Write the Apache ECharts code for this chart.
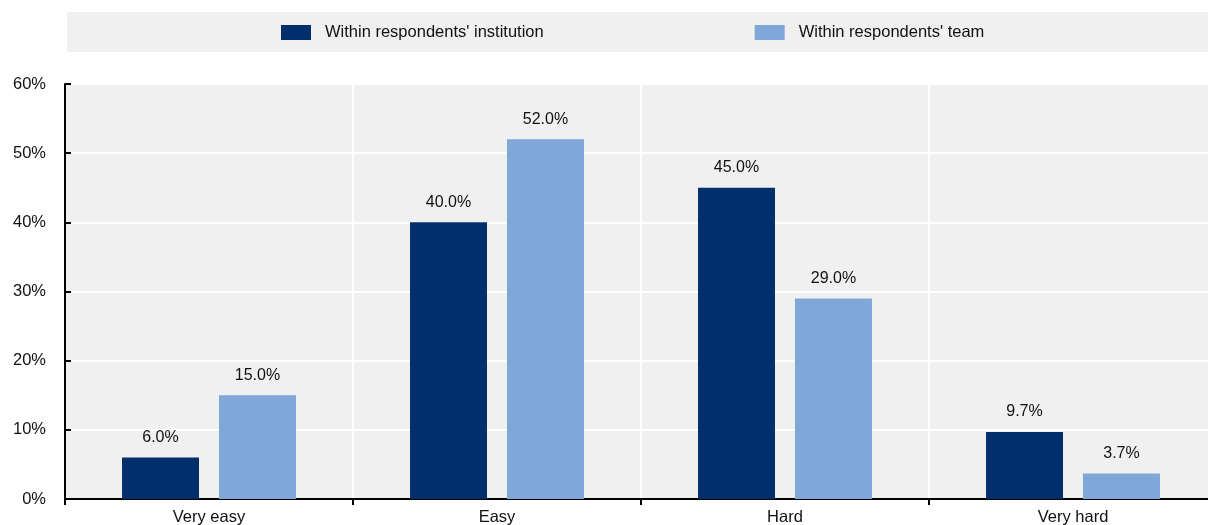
<!DOCTYPE html>
<html>
<head>
<meta charset="utf-8">
<script src="https://cdn.jsdelivr.net/npm/echarts@6/dist/echarts.min.js"></script>
<style>
html, body { margin: 0; padding: 0; background: #fff; }
#main { width: 1208px; height: 525px; }
</style>
</head>
<body>
<div id="main"></div>
<script>
var categories = ["Very easy", "Easy", "Hard", "Very hard"];
var institutionValues = [6.0, 40.0, 45.0, 9.7];
var teamValues = [15.0, 52.0, 29.0, 3.7];
var seriesNames = ["Within respondents' institution", "Within respondents' team"];

var FONT = "'Liberation Sans', Arial, sans-serif";

DrawChart();

function DrawChart(){
	var chart = echarts.init(document.getElementById('main'));

	// label shared by both series
	var barLabel = {
		show: true,
		position: 'top',
		distance: 12,
		color: '#111',
		fontFamily: FONT,
		fontSize: 16,
		formatter: function(p){ return p.value.toFixed(1) + '%'; }
	};

	var option = {
		animation: false,
		textStyle: { fontFamily: FONT },
		graphic: [{
			type: 'rect',
			shape: { x: 67, y: 12, width: 1141, height: 40 },
			style: { fill: '#f0f0f0' },
			z: -1
		}],
		legend: {
			data: seriesNames,
			left: 281,
			top: 24,
			padding: 0,
			itemWidth: 30,
			itemHeight: 15,
			itemGap: 211,
			icon: 'rect',
			textStyle: { fontFamily: FONT, fontSize: 16.5, color: '#111', padding: [0, 0, 0, 9] }
		},
		grid: {
			left: 65,
			top: 84,
			bottom: 26,
			width: 1152,
			outerBoundsMode: 'none',
			show: true,
			backgroundColor: '#f0f0f0',
			borderWidth: 0
		},
		xAxis: {
			type: 'category',
			data: categories,
			axisLine: { lineStyle: { color: '#000', width: 2 } },
			axisTick: { show: true, length: 6, lineStyle: { color: '#000', width: 2 } },
			axisLabel: { color: '#111', fontFamily: FONT, fontSize: 16.5, margin: 10 },
			splitLine: { show: true, interval: 0, lineStyle: { color: '#fff', width: 2 } }
		},
		yAxis: {
			type: 'value',
			min: 0,
			max: 60,
			interval: 10,
			axisLine: { show: true, lineStyle: { color: '#000', width: 2 } },
			axisTick: { show: true, inside: true, length: 6, lineStyle: { color: '#000', width: 2 } },
			axisLabel: { color: '#111', fontFamily: FONT, fontSize: 16.5, margin: 19, formatter: '{value}%' },
			splitLine: { show: true, lineStyle: { color: '#fff', width: 2 } }
		},
		series: [{
			name: seriesNames[0],
			type: 'bar',
			data: institutionValues,
			itemStyle: { color: '#002f6c' },
			barGap: '26%',
			barCategoryGap: '39.6%',
			label: barLabel
		}, {
			name: seriesNames[1],
			type: 'bar',
			data: teamValues,
			itemStyle: { color: '#7fa7d8' },
			label: barLabel
		}]
	};

	chart.setOption(option);
}
</script>
</body>
</html>
